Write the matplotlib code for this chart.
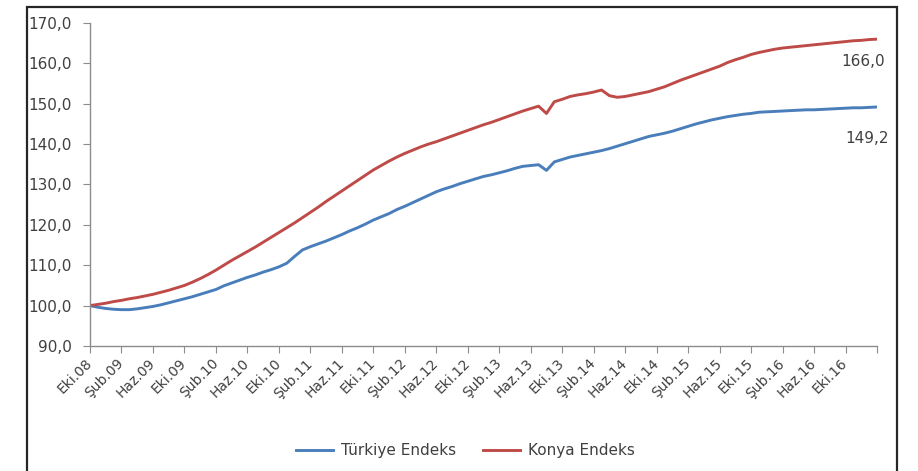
import matplotlib
matplotlib.use("Agg")
import matplotlib.pyplot as plt
from matplotlib.patches import Rectangle
from matplotlib.transforms import ScaledTranslation

# x axis labels (every 4 months, Eki.08 .. Eki.16)
tick_labels = ["Eki.08", "Şub.09", "Haz.09", "Eki.09", "Şub.10", "Haz.10", "Eki.10",
               "Şub.11", "Haz.11", "Eki.11", "Şub.12", "Haz.12", "Eki.12", "Şub.13",
               "Haz.13", "Eki.13", "Şub.14", "Haz.14", "Eki.14", "Şub.15", "Haz.15",
               "Eki.15", "Şub.16", "Haz.16", "Eki.16"]

# monthly index values, Oct 2008 - Feb 2017
turkiye = [100.0, 99.6, 99.3, 99.1, 99.0, 99.0, 99.2, 99.5, 99.8, 100.2,
           100.7, 101.2, 101.7, 102.2, 102.8, 103.4, 104.0, 104.9, 105.6, 106.3,
           107.0, 107.6, 108.3, 108.9, 109.6, 110.5, 112.2, 113.8, 114.6, 115.3,
           116.0, 116.8, 117.6, 118.5, 119.3, 120.2, 121.2, 122.0, 122.8, 123.8,
           124.6, 125.5, 126.4, 127.3, 128.2, 128.9, 129.5, 130.2, 130.8, 131.4,
           132.0, 132.4, 132.9, 133.4, 134.0, 134.5, 134.7, 134.9, 133.5, 135.6,
           136.2, 136.8, 137.2, 137.6, 138.0, 138.4, 138.9, 139.5, 140.1, 140.7,
           141.3, 141.9, 142.3, 142.7, 143.2, 143.8, 144.4, 145.0, 145.5, 146.0,
           146.4, 146.8, 147.1, 147.4, 147.6, 147.9, 148.0, 148.1, 148.2, 148.3,
           148.4, 148.5, 148.5, 148.6, 148.7, 148.8, 148.9, 149.0, 149.0, 149.1,
           149.2]

konya = [100.0, 100.3, 100.6, 101.0, 101.3, 101.7, 102.0, 102.4, 102.8, 103.3,
         103.8, 104.4, 105.0, 105.8, 106.7, 107.7, 108.8, 110.0, 111.2, 112.3,
         113.4, 114.5, 115.7, 116.9, 118.1, 119.3, 120.5, 121.8, 123.1, 124.4,
         125.8, 127.1, 128.4, 129.7, 131.0, 132.3, 133.6, 134.7, 135.8, 136.8,
         137.7, 138.5, 139.3, 140.0, 140.6, 141.3, 142.0, 142.7, 143.4, 144.1,
         144.8, 145.4, 146.1, 146.8, 147.5, 148.2, 148.8, 149.4, 147.6, 150.5,
         151.1, 151.8, 152.2, 152.5, 152.9, 153.4, 152.0, 151.6, 151.8, 152.2,
         152.6, 153.0, 153.6, 154.2, 155.0, 155.8, 156.5, 157.2, 157.9, 158.6,
         159.3, 160.2, 160.9, 161.5, 162.2, 162.7, 163.1, 163.5, 163.8, 164.0,
         164.2, 164.4, 164.6, 164.8, 165.0, 165.2, 165.4, 165.6, 165.7, 165.9,
         166.0]

months = list(range(len(turkiye)))
text_color = "#404040"
axis_color = "#8c8c8c"

fig = plt.figure(figsize=(9.18, 4.71), dpi=100)
ax = fig.add_axes([90 / 918, 1 - 346 / 471, (877 - 90) / 918, (346 - 23) / 471])

ax.plot(months, turkiye, color="#4A7EBB", lw=2.1, label="Türkiye Endeks")
ax.plot(months, konya, color="#BE4B48", lw=2.1, label="Konya Endeks")

ax.set_xlim(0, 100)
ax.set_ylim(90, 170)

yt = list(range(90, 171, 10))
ax.set_yticks(yt)
ax.set_yticklabels([f"{v},0" for v in yt], fontsize=11, color=text_color)

ax.set_xticks(list(range(0, 101, 4)))
ax.set_xticklabels(tick_labels + [""], fontsize=10, color=text_color,
                   rotation=45, ha="right", va="center", rotation_mode="anchor")
shift = ScaledTranslation(8 / 100, -4 / 100, fig.dpi_scale_trans)
for lab in ax.get_xticklabels():
    lab.set_transform(lab.get_transform() + shift)

for side in ["top", "right"]:
    ax.spines[side].set_visible(False)
for side in ["left", "bottom"]:
    ax.spines[side].set_color(axis_color)
    ax.spines[side].set_linewidth(1.0)
ax.tick_params(axis="both", direction="out", length=5, color=axis_color)
ax.tick_params(axis="y", pad=8)
ax.tick_params(axis="x", pad=6)

# end-value labels
ax.annotate(f"{konya[-1]:.1f}".replace(".", ","), (months[-1], konya[-1]),
            xytext=(-10, -16), textcoords="offset points", ha="center", va="center",
            fontsize=11, color=text_color)
ax.annotate(f"{turkiye[-1]:.1f}".replace(".", ","), (months[-1], turkiye[-1]),
            xytext=(-7, -23), textcoords="offset points", ha="center", va="center",
            fontsize=11, color=text_color)

fig.legend(loc="center", bbox_to_anchor=(0.507, 0.0425), ncol=2, frameon=False,
           fontsize=11, handlelength=2.4, handletextpad=0.5, columnspacing=1.8,
           labelcolor=text_color)

# outer chart frame
fig.patches.append(Rectangle((27 / 918, -0.05), (897 - 27) / 918, 1.05 - 7 / 471,
                             transform=fig.transFigure, fill=False,
                             edgecolor="#262626", linewidth=1.6))

fig.savefig("out.png", dpi=100)
